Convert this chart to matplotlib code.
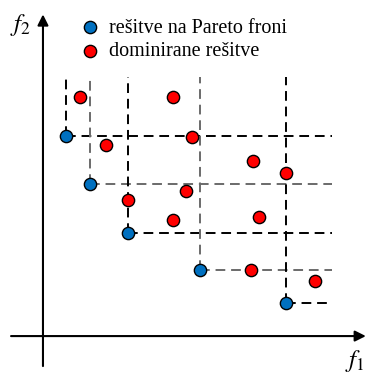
import matplotlib.pyplot as plt

plt.rcParams['font.family'] = ['Liberation Serif', 'DejaVu Serif']
plt.rcParams['mathtext.fontset'] = 'stix'

# Pareto front solutions (f1, f2)
pareto_f1 = [0.96, 1.96, 3.54, 6.54, 10.12]
pareto_f2 = [8.33, 6.33, 4.29, 2.75, 1.38]

# dominated solutions (f1, f2)
dom_f1 = [1.54, 5.42, 2.62, 6.21, 8.75, 10.12, 5.96, 3.54, 5.42, 9.00, 8.67, 11.33]
dom_f2 = [9.96, 9.96, 7.96, 8.29, 7.29, 6.79, 6.04, 5.67, 4.83, 4.96, 2.75, 2.29]

label_pareto = "rešitve na Pareto froni"
label_dom = "dominirane rešitve"

blue = "#0070C0"
red = "#FF0000"
top = 10.8
right = 12.04

fig = plt.figure(figsize=(3.68, 3.74), dpi=100)
ax = fig.add_axes([0, 0, 1, 1])
ax.set_xlim(-1.79, 13.54)
ax.set_ylim(-1.58, 14.0)
ax.axis('off')

# dominance region boundaries, black and gray alternating
for i, (x, y) in enumerate(zip(pareto_f1, pareto_f2)):
    col = 'black' if i % 2 == 0 else '#6a6a6a'
    ax.plot([x, x], [y, top], color=col, lw=1.4, ls=(0, (5, 3)), zorder=1)
    ax.plot([x, right], [y, y], color=col, lw=1.4, ls=(0, (5, 3)), zorder=1)

ax.scatter(dom_f1, dom_f2, s=78, c=red, edgecolors='black', linewidths=1.0,
           zorder=3, label=label_dom)
ax.scatter(pareto_f1, pareto_f2, s=78, c=blue, edgecolors='black', linewidths=1.0,
           zorder=3, label=label_pareto)

# axes with arrow heads
arrow = dict(arrowstyle='-|>', color='black', lw=1.5, mutation_scale=16,
             shrinkA=0, shrinkB=0)
ax.annotate('', xy=(13.45, 0), xytext=(-1.33, 0), arrowprops=arrow)
ax.annotate('', xy=(0, 13.4), xytext=(0, -1.25), arrowprops=arrow)

ax.text(-0.92, 12.95, r'$f_2$', fontsize=18, ha='center', va='center')
ax.text(13.0, -1.05, r'$f_1$', fontsize=18, ha='center', va='center')

handles, labels = ax.get_legend_handles_labels()
ax.legend(handles[::-1], labels[::-1], loc='upper left',
          bbox_to_anchor=(0.194, 0.977), frameon=False, fontsize=14.5,
          handlelength=0.8, handletextpad=0.55, labelspacing=0.22,
          borderpad=0)

fig.savefig("out.png", dpi=100)
